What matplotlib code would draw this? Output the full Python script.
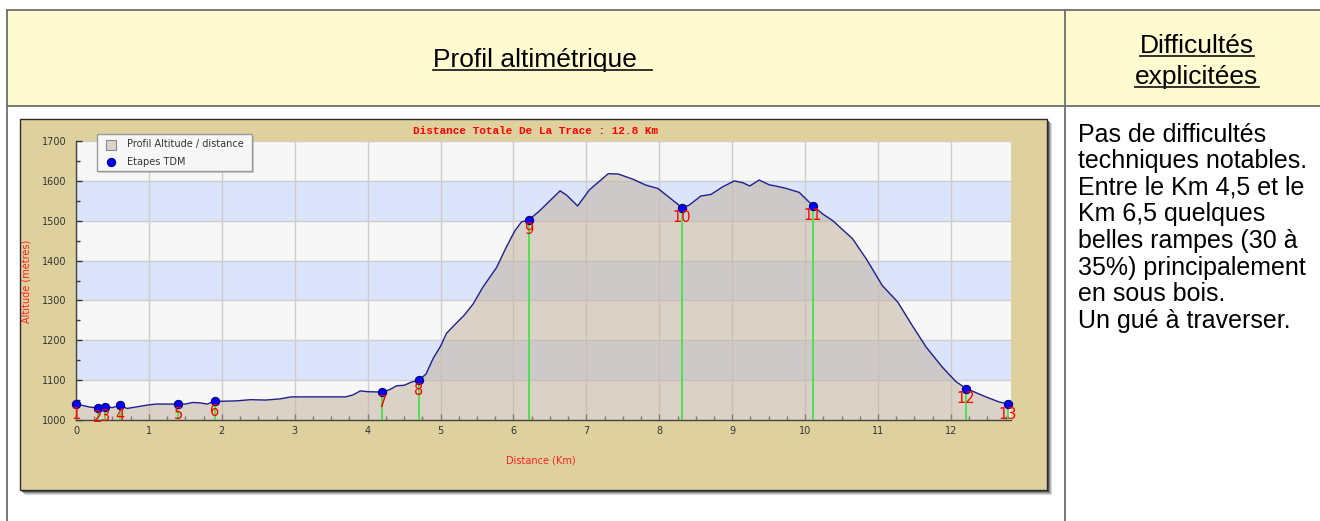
import matplotlib
matplotlib.use('Agg')
import matplotlib.pyplot as plt
from matplotlib.patches import Rectangle
from matplotlib.lines import Line2D
from matplotlib.ticker import MultipleLocator

W, H = 1320, 521

# ---------------- data ----------------
distance_km = [0.00, 0.10, 0.20, 0.30, 0.40, 0.50, 0.60, 0.70, 0.80, 0.90, 1.00, 1.10,
               1.40, 1.50, 1.60, 1.70, 1.80, 1.90, 2.00, 2.20, 2.40, 2.60, 2.80, 2.95,
               3.50, 3.70, 3.80, 3.90, 4.00, 4.20, 4.30, 4.40, 4.50, 4.60, 4.70, 4.80,
               4.90, 5.00, 5.08, 5.20, 5.33, 5.45, 5.58, 5.77, 5.90, 6.02, 6.11, 6.21,
               6.36, 6.64, 6.73, 6.88, 7.04, 7.30, 7.44, 7.64, 7.82, 7.98, 8.14, 8.31,
               8.41, 8.57, 8.71, 8.87, 9.03, 9.15, 9.24, 9.37, 9.51, 9.60, 9.74, 9.92,
               10.06, 10.11, 10.24, 10.38, 10.50, 10.65, 10.84, 11.06, 11.27, 11.47,
               11.66, 11.88, 12.07, 12.21, 12.48, 12.65, 12.78]
altitude_m = [1040, 1036, 1032, 1031, 1033, 1031, 1037, 1029, 1032, 1035, 1038, 1040,
              1040, 1040, 1044, 1043, 1040, 1047, 1047, 1048, 1051, 1050, 1053, 1058,
              1058, 1058, 1063, 1073, 1071, 1070, 1076, 1086, 1087, 1095, 1100, 1115,
              1155, 1185, 1217, 1240, 1264, 1292, 1333, 1383, 1433, 1475, 1497, 1502,
              1525, 1575, 1564, 1537, 1577, 1618, 1617, 1604, 1589, 1581, 1558, 1533,
              1539, 1562, 1566, 1585, 1600, 1595, 1587, 1602, 1590, 1587, 1581, 1571,
              1546, 1537, 1517, 1500, 1480, 1455, 1404, 1337, 1296, 1237,
              1183, 1133, 1096, 1079, 1058, 1046, 1040]

stage_km = [0.0, 0.3, 0.4, 0.6, 1.4, 1.9, 4.2, 4.7, 6.21, 8.31, 10.11, 12.21, 12.78]
stage_alt = [1040, 1031, 1033, 1037, 1040, 1047, 1070, 1100, 1502, 1533, 1537, 1079, 1040]
stage_labels = ["1", "2", "3", "4", "5", "6", "7", "8", "9", "10", "11", "12", "13"]

x_ticks = list(range(0, 13))
y_ticks = list(range(1000, 1701, 100))

chart_title = "Distance Totale De La Trace : 12.8 Km"
x_label = "Distance (Km)"
y_label = "Altitude (mètres)"
legend_labels = ["Profil Altitude / distance", "Etapes TDM"]
header_left = "Profil altimétrique"
header_right = ["Difficultés", "explicitées"]
description = ["Pas de difficultés", "techniques notables.", "Entre le Km 4,5 et le",
               "Km 6,5 quelques", "belles rampes (30 à", "35%) principalement",
               "en sous bois.", "Un gué à traverser."]

# ---------------- figure ----------------
fig = plt.figure(figsize=(13.2, 5.21), dpi=100)
fig.patch.set_facecolor('white')

bg = fig.add_axes([0, 0, 1, 1], zorder=0)
bg.set_xlim(0, W); bg.set_ylim(H, 0); bg.axis('off')

border = '#6E6E6E'
bg.add_patch(Rectangle((7, 10), W - 7, 96, facecolor='#FFFBD0', edgecolor='none'))
for xs, ys in [([7, W], [10, 10]), ([7, W], [106, 106]), ([7, 7], [10, H]), ([1065, 1065], [10, H])]:
    bg.add_line(Line2D(xs, ys, color=border, lw=1.3))

# chart frame with shadow
for off, c in [(5, '#DADADA'), (4, '#B5B5B5'), (3, '#8A8A8A'), (2, '#555555')]:
    bg.add_patch(Rectangle((20 + off, 119 + off), 1027, 371, facecolor=c, edgecolor='none'))
bg.add_patch(Rectangle((20, 119), 1027, 371, facecolor='#DFD19D', edgecolor='#2A2A2A', lw=1))

bg.text(535.8, 131, chart_title, ha='center', va='center', family='Liberation Mono',
        weight='bold', fontsize=7.9, color='#FF0000')
bg.text(541, 460.5, x_label, ha='center', va='center', fontsize=7, color='#FF2020')
bg.text(28, 281, y_label, ha='center', va='center', rotation=90, fontsize=7, color='#FF2020')

# header texts
hdr_font = dict(family='Liberation Sans', fontsize=19, color='black', va='baseline')
t_left = bg.text(433, 67, header_left, ha='left', **hdr_font)
t_r1 = bg.text(1197, 53, header_right[0], ha='center', **hdr_font)
t_r2 = bg.text(1197, 84, header_right[1], ha='center', **hdr_font)

for i, line in enumerate(description):
    bg.text(1078, 141.7 + i * 26.6, line, ha='left', va='baseline',
            family='Liberation Sans', fontsize=18, color='black')

# ---------------- chart ----------------
ax = fig.add_axes([76 / W, 1 - 420 / H, (1010.7 - 76) / W, 279 / H], zorder=1)
ax.set_xlim(0, 12.82)
ax.set_ylim(1000, 1700)
ax.set_facecolor('#F7F7F7')
for lo in (1100, 1300, 1500):
    ax.axhspan(lo, lo + 100, color='#DCE4FB', zorder=0.2, lw=0)
ax.set_axisbelow('line')
ax.grid(True, which='major', color='#CDCDCD', lw=1)

ax.fill_between(distance_km, altitude_m, 1000, color='#C4B4A0', alpha=0.55, lw=0, zorder=2)
ax.plot(distance_km, altitude_m, color='#1E1E8C', lw=1, zorder=3)
ax.vlines(stage_km, 1000, stage_alt, color='#4FE04F', lw=1.4, zorder=4)
ax.plot(stage_km, stage_alt, 'o', color='#0000FF', markeredgecolor='#000060',
        markeredgewidth=0.7, markersize=6, zorder=5, clip_on=False)
for xk, ya, lab in zip(stage_km, stage_alt, stage_labels):
    ax.annotate(lab, (xk, ya), xytext=(0, -10), textcoords='offset pixels',
                ha='center', va='center', fontsize=10.5, color='#FF0000', zorder=6,
                annotation_clip=False)

ax.set_xticks(x_ticks)
ax.set_yticks(y_ticks)
ax.xaxis.set_minor_locator(MultipleLocator(0.25))
ax.yaxis.set_minor_locator(MultipleLocator(50))
ax.tick_params(which='both', direction='in', color='#333333', labelsize=7,
               labelcolor='#333333', width=1)
ax.tick_params(which='major', length=4)
ax.tick_params(which='minor', length=3)
ax.tick_params(axis='x', pad=4)
ax.tick_params(axis='y', pad=7)
for s in ('top', 'right'):
    ax.spines[s].set_visible(False)
for s in ('left', 'bottom'):
    ax.spines[s].set_color('#444444')
    ax.spines[s].set_linewidth(1)

# ---------------- overlay: legend + underlines ----------------
ov = fig.add_axes([0, 0, 1, 1], zorder=2)
ov.set_xlim(0, W); ov.set_ylim(H, 0); ov.axis('off')
ov.patch.set_alpha(0)
ov.add_patch(Rectangle((99, 136), 155, 37, facecolor='#B0B0B0', edgecolor='none', alpha=0.6))
ov.add_patch(Rectangle((97, 134), 155, 37, facecolor='#F7F7F7', edgecolor='#9A9A9A', lw=1))
ov.add_patch(Rectangle((106, 140), 9.5, 9.5, facecolor='#DCD4C9', edgecolor='#8A8A8A', lw=0.8))
ov.plot([111], [162], 'o', color='#0000FF', markeredgecolor='#000060', markersize=6, markeredgewidth=0.7)
ov.text(127, 144.5, legend_labels[0], ha='left', va='center', fontsize=7, color='#333333')
ov.text(127, 162, legend_labels[1], ha='left', va='center', fontsize=7, color='#333333')

fig.canvas.draw()
r = fig.canvas.get_renderer()
for t, base, extra in [(t_left, 67, 15), (t_r1, 53, 0), (t_r2, 84, 0)]:
    bb = t.get_window_extent(r)
    ov.add_line(Line2D([bb.x0, bb.x1 + extra], [base + 3, base + 3], color='#222222', lw=1.3))

fig.savefig('out.png', dpi=100)
